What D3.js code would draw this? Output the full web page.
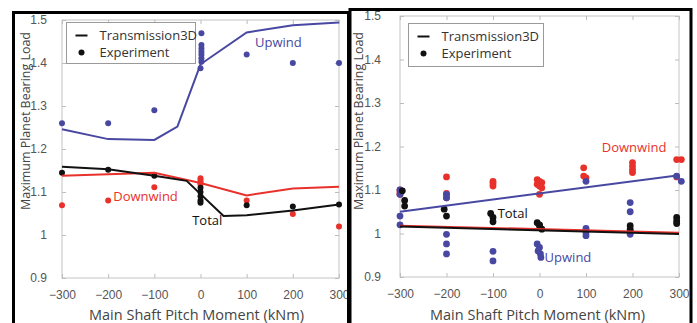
<!DOCTYPE html>
<html>
<head>
<meta charset="utf-8">
<script src="https://cdn.jsdelivr.net/npm/d3@7"></script>
<style>
  body { margin: 0; background: #fff; }
  svg { display: block; font-family: "Open Sans", sans-serif; }
</style>
</head>
<body>
<div id="chart"></div>
<script>
// shared axis values
const xTicks = [-300, -200, -100, 0, 100, 200, 300];
const yTicks = [0.9, 1, 1.1, 1.2, 1.3, 1.4, 1.5];
const xTitle = 'Main Shaft Pitch Moment (kNm)';
const yTitle = 'Maximum Planet Bearing Load';
const legendLabels = ['Transmission3D', 'Experiment'];

// left panel: [moment, load]
const leftUpwindModel = [[-300, 1.246], [-200, 1.223], [-100, 1.221], [-50, 1.252], [0, 1.397], [100, 1.471], [200, 1.488], [300, 1.494]];
const leftUpwindExp = [[-300, 1.26], [-200, 1.26], [-100, 1.29], [2, 1.469], [2, 1.442], [2, 1.434], [2, 1.426], [2, 1.419], [2, 1.411], [2, 1.403], [0, 1.388], [100, 1.42], [200, 1.40], [300, 1.40]];
const leftDownwindModel = [[-300, 1.138], [-100, 1.145], [0, 1.121], [100, 1.092], [200, 1.108], [300, 1.112]];
const leftDownwindExp = [[-300, 1.069], [-200, 1.08], [-100, 1.111], [0, 1.132], [0, 1.127], [0, 1.122], [0, 1.118], [100, 1.08], [200, 1.049], [300, 1.02]];
const leftTotalModel = [[-300, 1.159], [-200, 1.153], [-100, 1.138], [-30, 1.126], [50, 1.044], [100, 1.046], [200, 1.057], [300, 1.071]];
const leftTotalExp = [[-300, 1.145], [-200, 1.152], [-100, 1.138], [0, 1.11], [0, 1.10], [0, 1.09], [0, 1.08], [0, 1.075], [100, 1.069], [200, 1.066], [300, 1.071]];
const leftNotes = [['Upwind', 118, 1.447, 'up'], ['Downwind', -189, 1.089, 'down'], ['Total', -18, 1.035, 'total']];

// right panel
const rightUpwindModel = [[-300, 1.05], [300, 1.134]];
const rightDownwindModel = [[-300, 1.018], [300, 1.002]];
const rightTotalModel = [[-300, 1.016], [300, 0.999]];
const rightDownwindExp = [[-300, 1.10], [-300, 1.095], [-300, 1.09], [-200, 1.13], [-200, 1.092], [-200, 1.082], [-100, 1.12], [-100, 1.115], [-100, 1.109],
  [-5, 1.124], [0, 1.12], [5, 1.117], [-5, 1.113], [0, 1.109], [5, 1.105], [0, 1.09], [95, 1.151], [95, 1.132], [100, 1.128],
  [200, 1.163], [200, 1.155], [200, 1.147], [200, 1.14], [295, 1.17], [305, 1.17], [295, 1.13]];
const rightUpwindExp = [[-300, 1.10], [-300, 1.09], [-300, 1.04], [-300, 1.02], [-200, 1.09], [-200, 1.082], [-200, 0.998], [-200, 0.976], [-200, 0.953],
  [-100, 0.959], [-100, 0.937], [-5, 0.976], [0, 0.968], [-3, 0.96], [2, 0.953], [3, 0.945], [100, 1.12], [100, 1.012], [100, 1.002], [100, 0.995],
  [195, 1.071], [195, 1.05], [195, 1.006], [195, 0.998], [295, 1.132], [305, 1.12]];
const rightTotalExp = [[-295, 1.098], [-290, 1.076], [-290, 1.063], [-205, 1.056], [-200, 1.04], [-105, 1.046], [-100, 1.037], [-100, 1.027],
  [-5, 1.025], [0, 1.018], [5, 1.01], [0, 1.02], [195, 1.018], [195, 1.01], [295, 1.037], [295, 1.029], [295, 1.023]];
const rightNotes = [['Total', -90, 1.046, 'total'], ['Upwind', 11, 0.945, 'up'], ['Downwind', 134, 1.198, 'down']];

const colors = { up: '#4848a2', down: '#e8312b', total: '#111' };

const svg = d3.select('#chart').append('svg').attr('width', 697).attr('height', 323);

function drawPanel(p) {
  const x = d3.scaleLinear().domain([-300, 300]).range([p.left, p.right]);
  const y = d3.scaleLinear().domain([0.9, 1.5]).range([p.bottom, p.top]);
  const g = svg.append('g');

  g.append('rect').attr('x', p.left).attr('y', p.top)
    .attr('width', p.right - p.left).attr('height', p.bottom - p.top)
    .attr('fill', 'none').attr('stroke', '#c4c4c4');

  const styleAxis = a => {
    a.select('.domain').remove();
    a.selectAll('.tick line').attr('stroke', '#bdbdbd');
    a.selectAll('.tick text').attr('fill', '#555').attr('font-size', 12);
  };
  g.append('g').attr('transform', `translate(0,${p.bottom})`)
    .call(d3.axisBottom(x).tickValues(xTicks).tickSize(-4).tickPadding(12).tickFormat(d3.format('d'))).call(styleAxis);
  g.append('g').attr('transform', `translate(0,${p.top})`)
    .call(d3.axisTop(x).tickValues(xTicks).tickSize(-4).tickFormat('')).call(styleAxis);
  g.append('g').attr('transform', `translate(${p.left},0)`)
    .call(d3.axisLeft(y).tickValues(yTicks).tickSize(-4).tickPadding(p.yPad).tickFormat(d => String(d))).call(styleAxis);
  g.append('g').attr('transform', `translate(${p.right},0)`)
    .call(d3.axisRight(y).tickValues(yTicks).tickSize(-4).tickFormat('')).call(styleAxis);

  const line = d3.line().x(d => x(d[0])).y(d => y(d[1]));

  p.series.forEach(s => {
    g.append('g').selectAll('circle').data(s.exp).enter().append('circle')
      .attr('cx', d => x(d[0])).attr('cy', d => y(d[1])).attr('r', p.r)
      .attr('fill', colors[s.key]);
  });
  p.series.forEach(s => {
    g.append('path').datum(s.model).attr('d', line)
      .attr('fill', 'none').attr('stroke', colors[s.key]).attr('stroke-width', 2);
  });

  g.selectAll('.note').data(p.notes).enter().append('text')
    .attr('x', d => x(d[1])).attr('y', d => y(d[2])).attr('dy', '0.35em')
    .attr('font-size', 13).attr('fill', d => colors[d[3]]).text(d => d[0]);

  // legend
  const lg = g.append('g').attr('transform', `translate(${p.legend[0]},${p.legend[1]})`);
  lg.append('rect').attr('width', p.legend[2]).attr('height', p.legend[3])
    .attr('fill', '#fff').attr('stroke', '#9a9a9a');
  lg.append('line').attr('x1', 9).attr('x2', 21).attr('y1', 13).attr('y2', 13).attr('stroke', '#111').attr('stroke-width', 2);
  lg.append('circle').attr('cx', 15).attr('cy', 30).attr('r', 3).attr('fill', '#111');
  lg.selectAll('text').data(legendLabels).enter().append('text')
    .attr('x', 33).attr('y', (d, i) => 13 + i * 17).attr('dy', '0.35em')
    .attr('font-size', 13).attr('fill', '#333').text(d => d);

  g.append('text').attr('x', (p.left + p.right) / 2 + p.titleShift).attr('y', 315).attr('dy', '0.35em')
    .attr('text-anchor', 'middle').attr('font-size', 14.5).attr('fill', '#444').text(xTitle);
  g.append('text').attr('transform', `translate(${p.yTitleX},121) rotate(-90)`).attr('dy', '0.35em')
    .attr('text-anchor', 'middle').attr('font-size', 13.5).attr('fill', '#444')
    .attr('textLength', 178).attr('lengthAdjust', 'spacingAndGlyphs').text(yTitle);

  // panel frame
  svg.append('rect').attr('x', p.frame[0]).attr('y', p.frame[1])
    .attr('width', p.frame[2]).attr('height', 400).attr('fill', 'none')
    .attr('stroke', '#000').attr('stroke-width', 3);
}

drawPanel({
  left: 62, right: 339, top: 20, bottom: 278, yPad: 15, r: 3, titleShift: -4,
  legend: [66.5, 22.5, 129, 41], yTitleX: 25, frame: [13.5, 12.5, 335],
  notes: leftNotes,
  series: [
    { key: 'up', model: leftUpwindModel, exp: leftUpwindExp },
    { key: 'down', model: leftDownwindModel, exp: leftDownwindExp },
    { key: 'total', model: leftTotalModel, exp: leftTotalExp }
  ]
});
drawPanel({
  left: 400, right: 679, top: 16, bottom: 277, yPad: 19, r: 3.4, titleShift: -2,
  legend: [408.5, 23.5, 135, 43], yTitleX: 358, frame: [350, 9.5, 341],
  notes: rightNotes,
  series: [
    { key: 'down', model: rightDownwindModel, exp: rightDownwindExp },
    { key: 'up', model: rightUpwindModel, exp: rightUpwindExp },
    { key: 'total', model: rightTotalModel, exp: rightTotalExp }
  ]
});
</script>
</body>
</html>
